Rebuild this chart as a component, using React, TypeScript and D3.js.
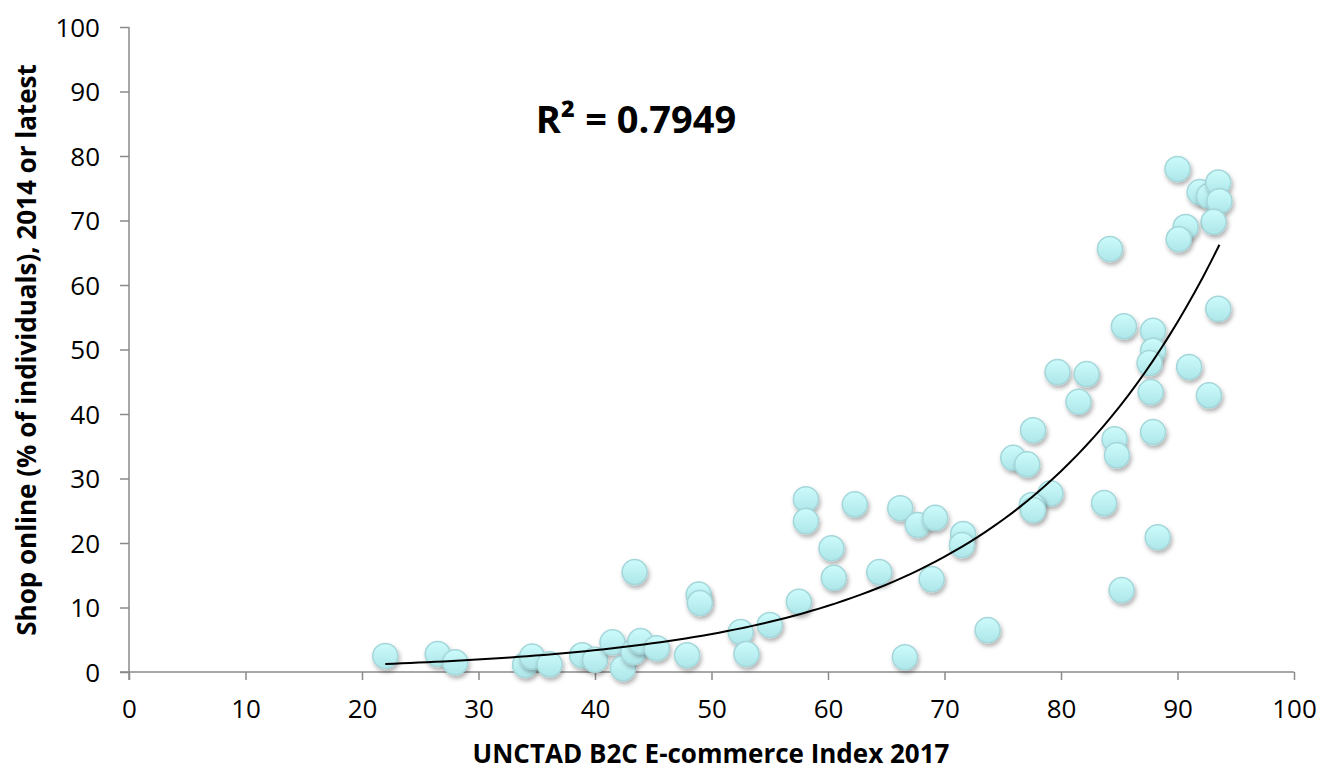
import React, { useEffect, useRef } from 'react';
import * as d3 from 'd3';

// UNCTAD B2C E-commerce Index 2017 (x) vs share of individuals shopping online (y)
const indexValues = [
  22.0, 26.5, 28.0, 34.0, 34.6, 36.1, 38.9, 40.0, 41.5, 42.4,
  43.3, 43.9, 45.3, 43.4, 47.9, 48.9, 49.0, 52.5, 53.0, 55.0,
  57.5, 58.1, 58.1, 60.3, 60.5, 62.3, 64.4, 66.2, 66.6, 67.7,
  69.2, 68.9, 71.6, 71.5, 73.7, 90.0, 91.9, 92.7, 93.5, 93.6,
  93.1, 90.7, 90.1, 84.2, 93.5, 85.4, 87.9, 87.9, 87.6, 91.0,
  79.7, 82.2, 87.7, 92.7, 81.5, 77.6, 87.9, 84.6, 84.8, 75.9,
  77.1, 79.1, 77.5, 77.6, 83.7, 88.3, 85.2,
];
const shopOnline = [
  2.5, 2.8, 1.5, 1.1, 2.4, 1.2, 2.6, 1.9, 4.6, 0.6,
  3.1, 4.8, 3.7, 15.5, 2.6, 12.0, 10.7, 6.2, 2.8, 7.3,
  10.9, 26.8, 23.4, 19.2, 14.6, 26.0, 15.5, 25.4, 2.3, 22.8,
  23.9, 14.4, 21.4, 19.7, 6.5, 78.0, 74.4, 73.8, 75.9, 73.0,
  69.8, 69.0, 67.1, 65.6, 56.3, 53.6, 52.9, 49.8, 47.9, 47.3,
  46.5, 46.2, 43.4, 42.9, 41.9, 37.5, 37.2, 36.1, 33.6, 33.2,
  32.2, 27.7, 25.9, 25.1, 26.2, 20.9, 12.7,
];
const xTicks = [0, 10, 20, 30, 40, 50, 60, 70, 80, 90, 100];
const yTicks = [0, 10, 20, 30, 40, 50, 60, 70, 80, 90, 100];
const rSquaredLabel = 'R² = 0.7949';

const W = 1322;
const H = 771;

export default function App() {
  const ref = useRef<SVGSVGElement>(null);

  useEffect(() => {
    const svg = d3.select(ref.current);
    svg.selectAll('*').remove();

    const left = 129, right = 1294, top = 27, bottom = 672;
    const font = "'Open Sans', Lato, sans-serif";

    const x = d3.scaleLinear().domain([0, 100]).range([left, right]);
    const y = d3.scaleLinear().domain([0, 100]).range([bottom, top]);

    const defs = svg.append('defs');
    const grad = defs.append('linearGradient')
      .attr('id', 'dotFill').attr('x1', 0).attr('y1', 0).attr('x2', 0).attr('y2', 1);
    grad.append('stop').attr('offset', '0%').attr('stop-color', '#cdfbfb');
    grad.append('stop').attr('offset', '100%').attr('stop-color', '#ade6e9');
    const f = defs.append('filter').attr('id', 'shadow')
      .attr('x', '-50%').attr('y', '-50%').attr('width', '200%').attr('height', '200%');
    f.append('feDropShadow').attr('dx', 1.5).attr('dy', 3).attr('stdDeviation', 2)
      .attr('flood-color', '#000').attr('flood-opacity', 0.3);

    // axes
    const axisColor = '#8a8a8a';
    const gx = svg.append('g').attr('transform', `translate(0,${bottom})`)
      .call(d3.axisBottom(x).tickValues(xTicks).tickSize(8).tickSizeOuter(0).tickPadding(20));
    const gy = svg.append('g').attr('transform', `translate(${left},0)`)
      .call(d3.axisLeft(y).tickValues(yTicks).tickSize(9).tickSizeOuter(0).tickPadding(20));
    [gx, gy].forEach(g => {
      g.select('.domain').attr('stroke', axisColor).attr('stroke-width', 1.5);
      g.selectAll('.tick line').attr('stroke', axisColor).attr('stroke-width', 1.5);
      g.selectAll('.tick text').attr('fill', '#000').style('font-family', font).style('font-size', '26px');
    });
    gx.select('.domain').attr('d', `M${left - 9},0H${right}`);
    gy.select('.domain').attr('d', `M0,${bottom + 8}V${top}`);
    gy.selectAll('.tick text').attr('dy', '0.36em');

    // points
    const pts = indexValues.map((v, i) => [v, shopOnline[i]] as [number, number]);
    svg.append('g').selectAll('circle').data(pts).join('circle')
      .attr('cx', d => x(d[0])).attr('cy', d => y(d[1])).attr('r', 12.5)
      .attr('fill', 'url(#dotFill)').attr('stroke', '#a4d6da').attr('stroke-width', 1.5)
      .attr('filter', 'url(#shadow)');

    // exponential trendline (least squares on ln y, like Excel)
    const mx = d3.mean(pts, d => d[0])!;
    const ml = d3.mean(pts, d => Math.log(d[1]))!;
    let sxy = 0, sxx = 0;
    pts.forEach(d => { sxy += (d[0] - mx) * (Math.log(d[1]) - ml); sxx += (d[0] - mx) ** 2; });
    const b = sxy / sxx;
    const a = Math.exp(ml - b * mx);
    const [xmin, xmax] = d3.extent(pts, d => d[0]) as [number, number];
    const curve = d3.range(0, 101).map(i => {
      const xv = xmin + (xmax - xmin) * i / 100;
      return [xv, a * Math.exp(b * xv)] as [number, number];
    });
    svg.append('path').datum(curve)
      .attr('d', d3.line<[number, number]>().x(d => x(d[0])).y(d => y(d[1])))
      .attr('fill', 'none').attr('stroke', '#000').attr('stroke-width', 2);

    // labels
    svg.append('text').attr('x', 636).attr('y', 133).attr('text-anchor', 'middle')
      .style('font-family', font).style('font-weight', 'bold').style('font-size', '38px')
      .text(rSquaredLabel);
    svg.append('text').attr('x', 711).attr('y', 763).attr('text-anchor', 'middle')
      .style('font-family', font).style('font-weight', 'bold').style('font-size', '26px')
      .text('UNCTAD B2C E-commerce Index 2017');
    svg.append('text').attr('transform', `translate(36,350) rotate(-90)`).attr('text-anchor', 'middle')
      .style('font-family', font).style('font-weight', 'bold').style('font-size', '26px')
      .text('Shop online (% of individuals), 2014 or latest');
  }, []);

  return (
    <svg ref={ref} width={W} height={H}
      style={{ position: 'absolute', left: 0, top: 0, background: '#fff' }} />
  );
}
